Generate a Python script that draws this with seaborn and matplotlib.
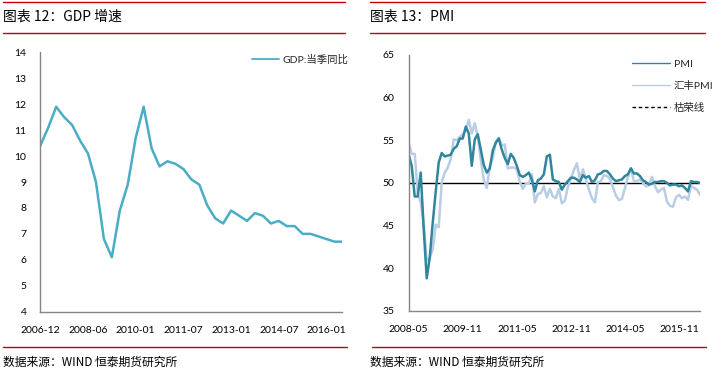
import matplotlib
matplotlib.use("Agg")
import matplotlib.pyplot as plt
import seaborn as sns
import pandas as pd
import numpy as np
from matplotlib.lines import Line2D

sns.set_theme(style="white")
plt.rcParams['font.family'] = ['Lato', 'Noto Sans CJK SC', 'DejaVu Sans']

# ---------------- data ----------------
gdp_ticklabels = ["2006-12", "2008-06", "2010-01", "2011-07", "2013-01", "2014-07", "2016-01"]
gdp_values = [10.4, 11.1, 11.9, 11.5, 11.2, 10.6, 10.1, 9.0, 6.8, 6.1, 7.9, 8.9, 10.7,
              11.9, 10.3, 9.6, 9.8, 9.7, 9.5, 9.1, 8.9, 8.1, 7.6, 7.4, 7.9, 7.7, 7.5,
              7.8, 7.7, 7.4, 7.5, 7.3, 7.3, 7.0, 7.0, 6.9, 6.8, 6.7, 6.7]

pmi_ticklabels = ["2008-05", "2009-11", "2011-05", "2012-11", "2014-05", "2015-11"]
pmi_values = [53.3, 52.0, 48.4, 48.4, 51.2, 44.6, 38.8, 41.2,
              45.3, 49.0, 52.4, 53.5, 53.1, 53.2, 53.3, 54.0, 54.3, 55.2, 55.2, 56.6,
              55.8, 52.0, 55.1, 55.7, 53.9, 52.1, 51.2, 51.7, 53.8, 54.7, 55.2, 53.9,
              52.9, 52.2, 53.4, 52.9, 52.0, 50.9, 50.7, 50.9, 51.2, 50.4, 49.0, 50.3,
              50.5, 51.0, 53.1, 53.3, 50.4, 50.2, 50.1, 49.2, 49.8, 50.2, 50.6, 50.6,
              50.4, 50.1, 50.9, 50.6, 50.8, 50.1, 50.3, 51.0, 51.1, 51.4, 51.4, 51.0,
              50.5, 50.2, 50.3, 50.4, 50.8, 51.0, 51.7, 51.1, 51.1, 50.8, 50.3, 50.1,
              49.8, 49.9, 50.1, 50.1, 50.2, 50.2, 50.0, 49.7, 49.8, 49.8, 49.6, 49.7,
              49.4, 49.0, 50.2, 50.1, 50.1, 50.0]
hsbc_values = [54.7, 53.4, 53.4, 48.8, 47.7, 45.2, 40.9, 41.2,
               42.2, 45.1, 44.8, 50.1, 51.2, 51.8, 52.8, 55.1, 55.0, 55.4, 55.7, 56.1,
               57.4, 55.8, 57.0, 55.4, 52.7, 50.4, 49.4, 51.9, 52.9, 54.8, 55.3, 54.4,
               54.5, 51.7, 51.8, 51.8, 51.6, 50.1, 49.3, 49.9, 49.9, 51.0, 47.7, 48.7,
               48.8, 49.6, 48.3, 49.3, 48.4, 48.2, 49.3, 47.6, 47.9, 49.5, 50.5, 51.5,
               52.3, 50.4, 51.6, 50.4, 49.2, 48.2, 47.7, 50.1, 50.2, 50.9, 50.8, 50.5,
               49.5, 48.5, 48.0, 48.1, 49.4, 50.7, 51.7, 50.2, 50.2, 50.4, 50.0, 49.6,
               49.7, 50.7, 49.6, 48.9, 49.2, 49.4, 47.8, 47.3, 47.2, 48.3, 48.6, 48.2,
               48.4, 48.0, 49.7, 49.4, 49.2, 48.6]
boom_bust = 50

gdp_color = "#4BACC6"
pmi_color = "#31859C"
hsbc_color = "#B9CDE5"
red = "#C00000"

W, H = 721, 378
fig = plt.figure(figsize=(W / 100, H / 100), dpi=100)

def fx(px):
    return px / W

def fy(py):
    return 1 - py / H

# --- decorative header / footer lines and texts ---
for (x0, x1) in [(3, 345), (370, 705)]:
    fig.add_artist(Line2D([fx(x0), fx(x1)], [fy(2.3), fy(2.3)], color=red, lw=1.0))
    fig.add_artist(Line2D([fx(x0), fx(x1)], [fy(33.3), fy(33.3)], color=red, lw=1.0))
for (x0, x1) in [(3, 347), (372, 706)]:
    fig.add_artist(Line2D([fx(x0), fx(x1)], [fy(347), fy(347)], color=red, lw=1.0))

title_kw = dict(fontsize=10, va="center", ha="left", color="black",
                family=["Noto Sans CJK SC", "DejaVu Sans"])
fig.text(fx(3), fy(17), "图表 12：GDP 增速", **title_kw)
fig.text(fx(370), fy(17), "图表 13：PMI", **title_kw)
foot_kw = dict(fontsize=8.5, va="center", ha="left", color="black",
               family=["Noto Sans CJK SC", "DejaVu Sans"])
fig.text(fx(3), fy(362), "数据来源：WIND 恒泰期货研究所", **foot_kw)
fig.text(fx(370), fy(362), "数据来源：WIND 恒泰期货研究所", **foot_kw)

def style_axis(ax):
    for s in ["top", "right"]:
        ax.spines[s].set_visible(False)
    for s in ["left", "bottom"]:
        ax.spines[s].set_color("#868686")
        ax.spines[s].set_linewidth(1.0)
    ax.tick_params(axis="both", which="both", direction="out", length=4, width=0.8,
                   color="#868686", labelsize=7.5, labelcolor="black")
    ax.tick_params(axis="y", pad=6)
    ax.tick_params(axis="x", pad=6)
    ax.grid(False)
    ax.set_xlabel("")
    ax.set_ylabel("")

# ---------------- left: GDP ----------------
ax1 = fig.add_axes([fx(40.3), fy(311.7), fx(342.4) - fx(40.3), fy(52.3) - fy(311.7)])
gdp_df = pd.DataFrame({"idx": np.arange(len(gdp_values)), "GDP:当季同比": gdp_values})
sns.lineplot(data=gdp_df, x="idx", y="GDP:当季同比", ax=ax1, color=gdp_color, lw=1.8,
             legend=False)
ax1.set_xlim(0, len(gdp_values) - 1)
ax1.set_ylim(4, 14)
ax1.set_yticks(range(4, 15))
ax1.set_xticks(np.arange(len(gdp_ticklabels)) * 6)
ax1.set_xticklabels(gdp_ticklabels)
style_axis(ax1)
h1 = [Line2D([], [], color=gdp_color, lw=1.3)]
ax1.legend(h1, ["GDP:当季同比"], loc="upper left", bbox_to_anchor=(0.695, 1.0),
           frameon=False, fontsize=7.5, handlelength=2.6, handletextpad=0.3,
           borderaxespad=0.0, borderpad=0.2)

# ---------------- right: PMI ----------------
ax2 = fig.add_axes([fx(408.7), fy(310.7), fx(700) - fx(408.7), fy(55) - fy(310.7)])
pmi_df = pd.DataFrame({"idx": np.arange(len(pmi_values)),
                       "PMI": pmi_values, "汇丰PMI": hsbc_values})
sns.lineplot(data=pmi_df, x="idx", y="汇丰PMI", ax=ax2, color=hsbc_color, lw=1.8,
             legend=False)
sns.lineplot(data=pmi_df, x="idx", y="PMI", ax=ax2, color=pmi_color, lw=1.8,
             legend=False)
ax2.axhline(boom_bust, color="black", lw=1.0, zorder=1.5)
ax2.set_xlim(0, len(pmi_values) - 1)
ax2.set_ylim(35, 65)
ax2.set_yticks(range(35, 66, 5))
ax2.set_xticks(np.arange(len(pmi_ticklabels)) * 18)
ax2.set_xticklabels(pmi_ticklabels)
style_axis(ax2)
h2 = [Line2D([], [], color=pmi_color, lw=1.0),
      Line2D([], [], color=hsbc_color, lw=1.0),
      Line2D([], [], color="black", lw=1.0, ls=(0, (2.5, 2)))]
ax2.legend(h2, ["PMI", "汇丰PMI", "枯荣线"], loc="upper left",
           bbox_to_anchor=(0.76, 0.99), frameon=False, fontsize=7.5,
           handlelength=3.6, handletextpad=0.4, labelspacing=1.15,
           borderaxespad=0.0, borderpad=0.2)

fig.savefig("out.png", dpi=100)
